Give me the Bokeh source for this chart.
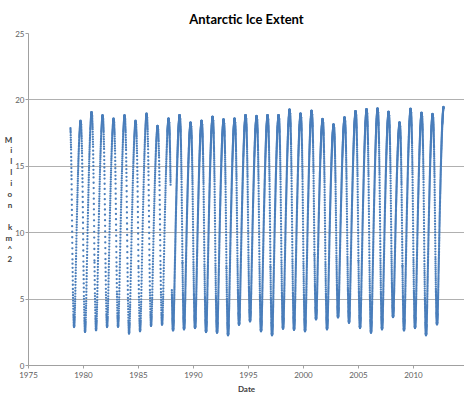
import numpy as np
import pandas as pd
from bokeh.plotting import figure
from bokeh.models import Range1d, FixedTicker, ColumnDataSource
from bokeh.embed import file_html
from bokeh.resources import INLINE

# ---- data ----
# yearly seasonal maxima (September) in million km^2, 1978..2012
max_years = list(range(1978, 2013))
annual_max = [18.80, 18.44, 19.10, 18.86, 18.60, 18.86, 18.44, 18.98, 18.06, 18.60,
              18.86, 18.30, 18.44, 18.74, 18.54, 18.60, 18.86, 18.79, 18.86, 18.86,
              19.28, 18.98, 19.19, 18.56, 18.16, 18.69, 19.16, 19.31, 19.36, 19.11,
              18.31, 19.34, 19.04, 18.94, 19.48]
# yearly seasonal minima (February) in million km^2, 1979..2012
min_years = list(range(1979, 2013))
annual_min = [2.90, 2.52, 2.64, 2.90, 2.90, 2.40, 2.57, 2.97, 3.07, 2.64,
              2.72, 2.82, 2.52, 2.47, 2.27, 3.07, 3.32, 2.57, 2.27, 2.77,
              2.69, 2.57, 3.47, 2.72, 3.62, 3.22, 2.82, 2.47, 2.72, 3.64,
              2.64, 2.82, 2.27, 3.09]
# seasonal shape (fraction of the swing between min and max) by day of year
grow_day = [52, 60, 74, 91, 105, 121, 135, 152, 166, 182, 196, 213, 227, 244, 258, 268]
grow_frac = [0.0, 0.01, 0.05, 0.14, 0.24, 0.35, 0.45, 0.56, 0.64, 0.73, 0.80, 0.87, 0.92, 0.96, 0.99, 1.0]
decl_day = [268, 274, 288, 305, 319, 335, 349, 365, 380, 397, 410, 417]
decl_frac = [1.0, 0.99, 0.98, 0.92, 0.84, 0.70, 0.53, 0.32, 0.17, 0.06, 0.01, 0.0]

x_ticks = [1975, 1980, 1985, 1990, 1995, 2000, 2005, 2010, 2015]
y_ticks = [0, 5, 10, 15, 20, 25]

# ---- build the daily record ----
mx = dict(zip(max_years, annual_max))
mn = dict(zip(min_years, annual_min))
dates = pd.date_range("1978-10-26", "2012-09-23", freq="D")
switch = pd.Timestamp("1987-08-20")
gap0, gap1 = pd.Timestamp("1987-12-03"), pd.Timestamp("1988-01-12")
xs, ys = [], []
for i, d in enumerate(dates):
    if d < switch and i % 2:
        continue
    if gap0 <= d <= gap1:
        continue
    doy = d.dayofyear
    yr = d.year
    if 52 <= doy < 268:
        f = np.interp(doy, grow_day, grow_frac)
        lo, hi = mn[yr], mx[yr]
    elif doy >= 268:
        f = np.interp(doy, decl_day, decl_frac)
        lo, hi = mn[yr + 1], mx[yr]
    else:
        f = np.interp(doy + 365, decl_day, decl_frac)
        lo, hi = mn[yr], mx[yr - 1]
    xs.append(yr + (doy - 1) / 365.25)
    ys.append(lo + f * (hi - lo))

src = ColumnDataSource(dict(x=xs, y=ys))

p = figure(width=464, height=396, x_range=Range1d(1975, 2014.64), y_range=Range1d(0, 25),
           output_backend="svg", toolbar_location=None,
           title="Antarctic Ice Extent",
           min_border_left=28, min_border_right=0, min_border_top=33, min_border_bottom=0)
p.outline_line_color = None
p.background_fill_color = "white"
p.border_fill_color = "white"

p.title.align = "center"
p.title.text_font = "Lato"
p.title.text_font_size = "13px"
p.title.text_font_style = "bold"
p.title.text_color = "#000000"
p.title.text_line_height = 0.9
p.title.standoff = 14

p.scatter("x", "y", source=src, marker="circle", size=2.3,
          fill_color="#4a7ebb", line_color=None)

p.xgrid.visible = False
p.ygrid.grid_line_color = "#b0b0b0"
p.ygrid.grid_line_width = 1

p.xaxis.ticker = FixedTicker(ticks=x_ticks)
p.yaxis.ticker = FixedTicker(ticks=y_ticks)
for ax in (p.xaxis[0], p.yaxis[0]):
    ax.axis_line_color = "#a0a0a0"
    ax.major_tick_line_color = "#a0a0a0"
    ax.minor_tick_line_color = None
    ax.major_tick_in = 0
    ax.major_label_text_font = "Lato"
    ax.major_label_text_font_size = "8px"
    ax.major_label_text_color = "#606060"
p.xaxis.major_tick_out = 3
p.xaxis.major_label_standoff = 3
p.yaxis.major_tick_out = 3
p.yaxis.major_label_standoff = 1
p.xaxis.axis_label = "Date"
p.xaxis.axis_label_text_font = "Lato"
p.xaxis.axis_label_text_font_size = "8px"
p.xaxis.axis_label_text_font_style = "bold"
p.xaxis.axis_label_text_color = "#404040"
p.xaxis.axis_label_standoff = 3

# stacked y-axis label, one character per line
p.yaxis.axis_label = "\n".join("Million km^2")
p.yaxis.axis_label_orientation = "horizontal"
p.yaxis.axis_label_text_font = "Lato"
p.yaxis.axis_label_text_font_size = "8px"
p.yaxis.axis_label_text_font_style = "bold"
p.yaxis.axis_label_text_color = "#404040"
p.yaxis.axis_label_text_line_height = 1.09
p.yaxis.axis_label_text_align = "center"
p.yaxis.axis_label_standoff = 0

open("out.html", "w").write(file_html(p, INLINE))
